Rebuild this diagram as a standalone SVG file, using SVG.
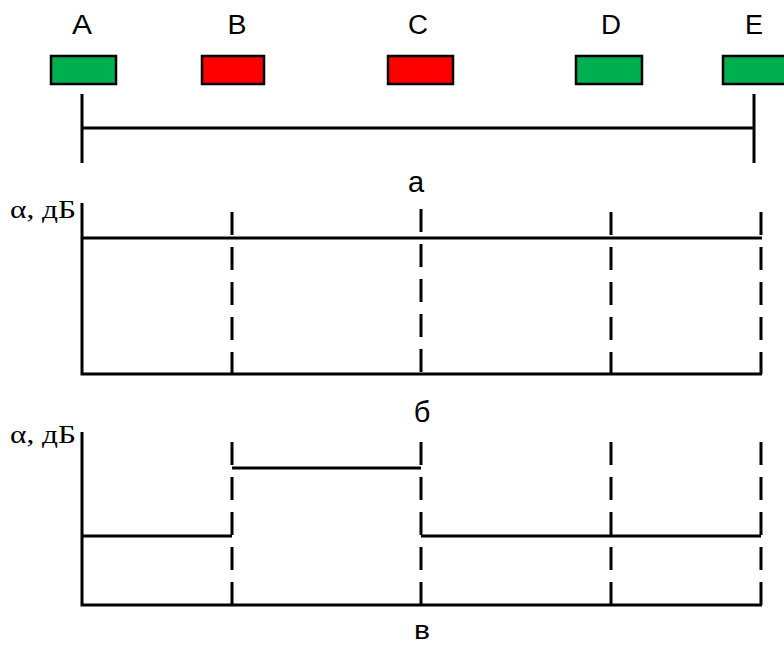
<svg xmlns="http://www.w3.org/2000/svg" width="784" height="645" viewBox="0 0 784 645">
  <style>
    .bg { fill: #ffffff; }
    .ok { fill: #00b050; stroke: #000; stroke-width: 2.5; }
    .bad { fill: #ff0000; stroke: #000; stroke-width: 2.5; }
    .lbl { font-family: "Liberation Sans", Arial, sans-serif; font-size: 27px; fill: #000; text-anchor: middle; }
    .cap { font-family: "Liberation Sans", Arial, sans-serif; font-size: 29px; fill: #000; text-anchor: middle; }
    .ax { font-family: "Liberation Serif", "Times New Roman", serif; font-size: 25px; fill: #000; }
    .ln { stroke: #000; stroke-width: 3; fill: none; }
    .dash { stroke: #000; stroke-width: 3; fill: none; stroke-dasharray: 23 12; }
  </style>
  <rect class="bg" x="0" y="0" width="784" height="645"/>

  <!-- stations along the line -->
  <g id="node-a">
    <text class="lbl" x="82" y="34" textLength="20" lengthAdjust="spacingAndGlyphs">A</text>
    <rect class="ok" x="51" y="56" width="65" height="28"/>
  </g>
  <g id="node-b">
    <text class="lbl" x="237" y="34" textLength="19" lengthAdjust="spacingAndGlyphs">B</text>
    <rect class="bad" x="202" y="56" width="62" height="28"/>
  </g>
  <g id="node-c">
    <text class="lbl" x="418" y="34" textLength="20" lengthAdjust="spacingAndGlyphs">C</text>
    <rect class="bad" x="388" y="56" width="65" height="28"/>
  </g>
  <g id="node-d">
    <text class="lbl" x="611" y="34" textLength="20" lengthAdjust="spacingAndGlyphs">D</text>
    <rect class="ok" x="576" y="56" width="66" height="28"/>
  </g>
  <g id="node-e">
    <text class="lbl" x="754" y="34" textLength="18" lengthAdjust="spacingAndGlyphs">E</text>
    <rect class="ok" x="723" y="56" width="70" height="28"/>
  </g>

  <!-- span between terminals -->
  <g id="connectors">
    <line class="ln" x1="82" y1="94" x2="82" y2="163"/>
    <line class="ln" x1="754" y1="94" x2="754" y2="163"/>
    <line class="ln" x1="82" y1="128" x2="754" y2="128"/>
  </g>
  <text class="cap" x="416" y="192">а</text>

  <!-- chart б: uniform attenuation -->
  <g id="chart-b">
    <text class="ax" x="10" y="218" textLength="66" lengthAdjust="spacingAndGlyphs">α, дБ</text>
    <polyline class="ln" points="82,203 82,374 762,374"/>
    <line class="ln" x1="82" y1="238" x2="762" y2="238"/>
    <line class="dash" x1="232" y1="212" x2="232" y2="374"/>
    <line class="dash" x1="421" y1="209" x2="421" y2="374"/>
    <line class="dash" x1="611" y1="212" x2="611" y2="374"/>
    <line class="dash" x1="761" y1="212" x2="761" y2="374"/>
  </g>
  <text class="cap" x="422" y="422">б</text>

  <!-- chart в: raised attenuation on section B–C -->
  <g id="chart-v">
    <text class="ax" x="10" y="443" textLength="66" lengthAdjust="spacingAndGlyphs">α, дБ</text>
    <polyline class="ln" points="82,432 82,605 762,605"/>
    <line class="ln" x1="82" y1="536" x2="232" y2="536"/>
    <line class="ln" x1="232" y1="468" x2="421" y2="468"/>
    <line class="ln" x1="421" y1="536" x2="761" y2="536"/>
    <line class="dash" x1="232" y1="442" x2="232" y2="605"/>
    <line class="dash" x1="421" y1="442" x2="421" y2="605"/>
    <line class="dash" x1="611" y1="442" x2="611" y2="605"/>
    <line class="dash" x1="761" y1="442" x2="761" y2="605"/>
  </g>
  <text class="cap" x="422" y="639" style="font-size:25px" textLength="16" lengthAdjust="spacingAndGlyphs">в</text>
</svg>
